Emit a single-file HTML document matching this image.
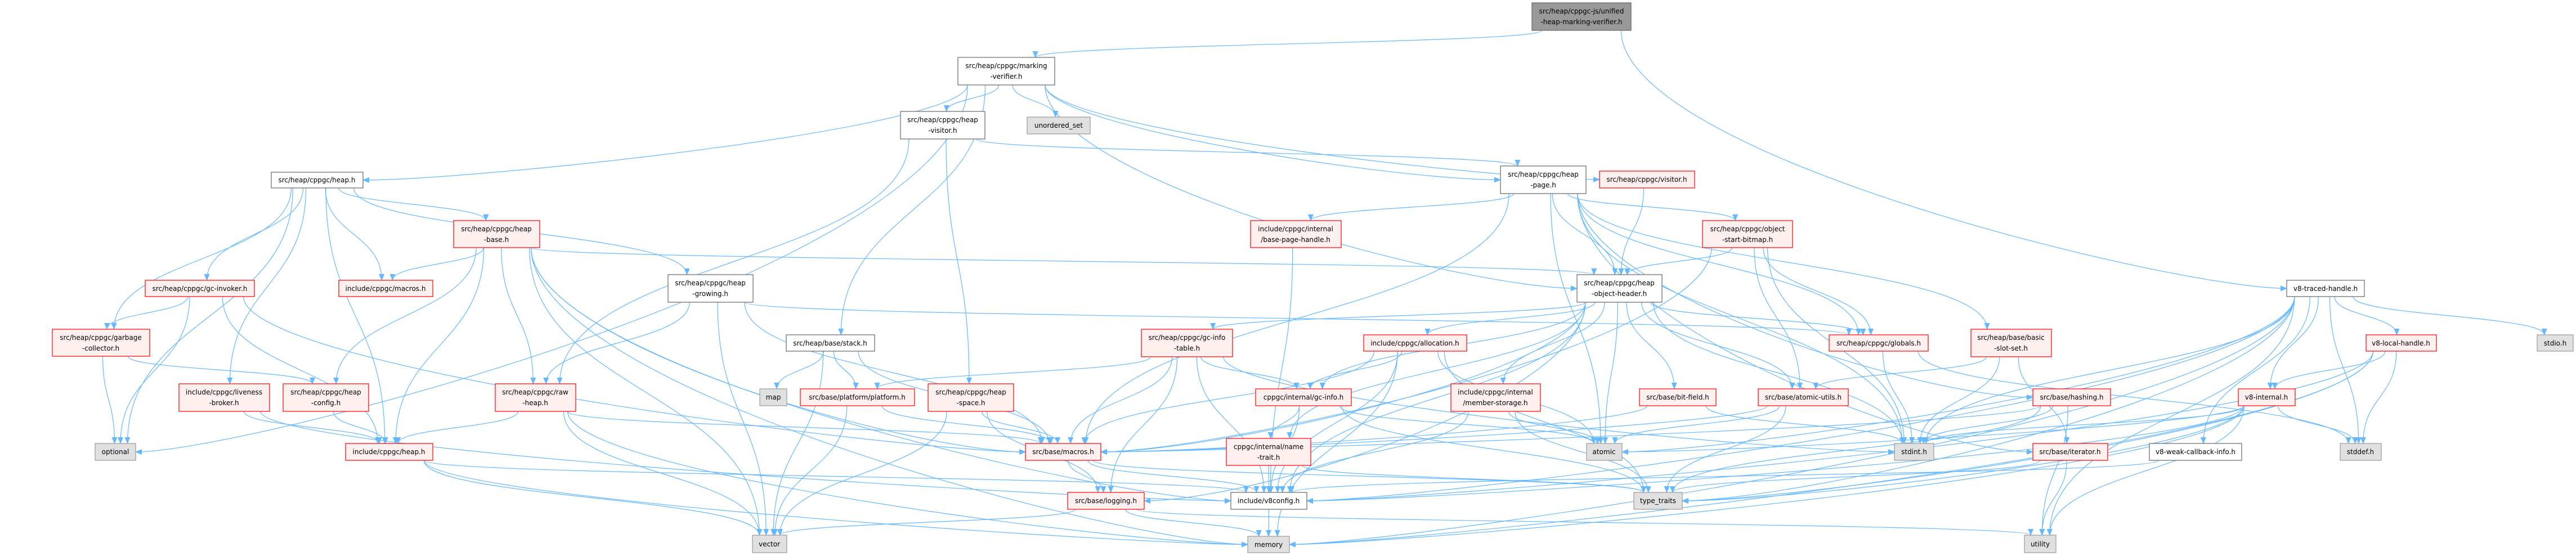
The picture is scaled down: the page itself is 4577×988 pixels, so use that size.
<!DOCTYPE html>
<html><head><meta charset="utf-8"><style>
html,body{margin:0;padding:0;background:#fff;}
svg{display:block;}
text{font-family:"DejaVu Sans","Liberation Sans",sans-serif;font-size:12px;fill:#000;}
.r rect{fill:#fff0f0;stroke:#ff0000;stroke-width:1.2}
.w rect{fill:#fff;stroke:#666;stroke-width:1.2}
.g rect{fill:#e0e0e0;stroke:#999;stroke-width:1.2}
.t rect{fill:#999;stroke:#666;stroke-width:1.2}
</style></head><body>
<svg id="s" width="4577" height="988" viewBox="0 0 4577 988" xmlns="http://www.w3.org/2000/svg">
<defs><marker id="a" markerWidth="12" markerHeight="10" refX="11" refY="5" orient="auto" markerUnits="userSpaceOnUse"><path d="M0,0 L12,5 L0,10 z" fill="#63b8ff"/></marker></defs>
<g id="edges" fill="none" stroke="#63b8ff" stroke-width="1.2"></g>
<g text-anchor="middle">
<g class="t"><rect x="2722" y="5" width="176" height="49"/><text x="2810" y="24">src/heap/cppgc-js/unified</text><text x="2810" y="43">-heap-marking-verifier.h</text></g>
<g class="w"><rect x="1702" y="102" width="172" height="49"/><text x="1788" y="121">src/heap/cppgc/marking</text><text x="1788" y="140">-verifier.h</text></g>
<g class="w"><rect x="1600" y="198" width="150" height="49"/><text x="1675" y="217">src/heap/cppgc/heap</text><text x="1675" y="236">-visitor.h</text></g>
<g class="g"><rect x="1825" y="208" width="112" height="30"/><text x="1881" y="227">unordered_set</text></g>
<g class="w"><rect x="482" y="306" width="163" height="28"/><text x="563" y="324">src/heap/cppgc/heap.h</text></g>
<g class="w"><rect x="2666" y="295" width="152" height="49"/><text x="2742" y="314">src/heap/cppgc/heap</text><text x="2742" y="333">-page.h</text></g>
<g class="r"><rect x="2842" y="304" width="169" height="30"/><text x="2926" y="323">src/heap/cppgc/visitor.h</text></g>
<g class="w"><rect x="4063" y="498" width="138" height="29"/><text x="4132" y="517">v8-traced-handle.h</text></g>
<g class="r"><rect x="806" y="392" width="153" height="48"/><text x="882" y="411">src/heap/cppgc/heap</text><text x="882" y="430">-base.h</text></g>
<g class="r"><rect x="2222" y="392" width="161" height="48"/><text x="2302" y="411">include/cppgc/internal</text><text x="2302" y="430">/base-page-handle.h</text></g>
<g class="r"><rect x="3025" y="392" width="160" height="48"/><text x="3105" y="411">src/heap/cppgc/object</text><text x="3105" y="430">-start-bitmap.h</text></g>
<g class="r"><rect x="258" y="498" width="194" height="29"/><text x="355" y="517">src/heap/cppgc/gc-invoker.h</text></g>
<g class="r"><rect x="602" y="498" width="167" height="29"/><text x="685" y="517">include/cppgc/macros.h</text></g>
<g class="w"><rect x="1187" y="488" width="151" height="49"/><text x="1262" y="507">src/heap/cppgc/heap</text><text x="1262" y="526">-growing.h</text></g>
<g class="w"><rect x="2802" y="488" width="151" height="49"/><text x="2877" y="507">src/heap/cppgc/heap</text><text x="2877" y="526">-object-header.h</text></g>
<g class="r"><rect x="93" y="585" width="173" height="48"/><text x="179" y="604">src/heap/cppgc/garbage</text><text x="179" y="623">-collector.h</text></g>
<g class="w"><rect x="1397" y="595" width="157" height="29"/><text x="1475" y="614">src/heap/base/stack.h</text></g>
<g class="r"><rect x="2028" y="585" width="162" height="49"/><text x="2109" y="604">src/heap/cppgc/gc-info</text><text x="2109" y="623">-table.h</text></g>
<g class="r"><rect x="2423" y="595" width="183" height="29"/><text x="2514" y="614">include/cppgc/allocation.h</text></g>
<g class="r"><rect x="3250" y="595" width="176" height="29"/><text x="3338" y="614">src/heap/cppgc/globals.h</text></g>
<g class="r"><rect x="3502" y="585" width="143" height="49"/><text x="3573" y="604">src/heap/base/basic</text><text x="3573" y="623">-slot-set.h</text></g>
<g class="r"><rect x="4204" y="595" width="125" height="29"/><text x="4266" y="614">v8-local-handle.h</text></g>
<g class="g"><rect x="4508" y="595" width="64" height="29"/><text x="4540" y="614">stdio.h</text></g>
<g class="r"><rect x="318" y="682" width="161" height="49"/><text x="398" y="701">include/cppgc/liveness</text><text x="398" y="720">-broker.h</text></g>
<g class="r"><rect x="503" y="682" width="152" height="49"/><text x="579" y="701">src/heap/cppgc/heap</text><text x="579" y="720">-config.h</text></g>
<g class="r"><rect x="880" y="682" width="143" height="49"/><text x="951" y="701">src/heap/cppgc/raw</text><text x="951" y="720">-heap.h</text></g>
<g class="g"><rect x="1350" y="691" width="48" height="30"/><text x="1374" y="710">map</text></g>
<g class="r"><rect x="1422" y="691" width="203" height="30"/><text x="1523" y="710">src/base/platform/platform.h</text></g>
<g class="r"><rect x="1649" y="682" width="152" height="49"/><text x="1725" y="701">src/heap/cppgc/heap</text><text x="1725" y="720">-space.h</text></g>
<g class="r"><rect x="2231" y="691" width="170" height="30"/><text x="2316" y="710">cppgc/internal/gc-info.h</text></g>
<g class="r"><rect x="2578" y="682" width="159" height="49"/><text x="2657" y="701">include/cppgc/internal</text><text x="2657" y="720">/member-storage.h</text></g>
<g class="r"><rect x="2913" y="691" width="136" height="30"/><text x="2981" y="710">src/base/bit-field.h</text></g>
<g class="r"><rect x="3124" y="691" width="160" height="30"/><text x="3204" y="710">src/base/atomic-utils.h</text></g>
<g class="r"><rect x="3612" y="691" width="138" height="30"/><text x="3681" y="710">src/base/hashing.h</text></g>
<g class="r"><rect x="3977" y="691" width="101" height="30"/><text x="4027" y="710">v8-internal.h</text></g>
<g class="g"><rect x="169" y="788" width="72" height="30"/><text x="205" y="807">optional</text></g>
<g class="r"><rect x="614" y="788" width="155" height="30"/><text x="691" y="807">include/cppgc/heap.h</text></g>
<g class="r"><rect x="1822" y="788" width="134" height="30"/><text x="1889" y="807">src/base/macros.h</text></g>
<g class="r"><rect x="2179" y="779" width="150" height="48"/><text x="2254" y="798">cppgc/internal/name</text><text x="2254" y="817">-trait.h</text></g>
<g class="g"><rect x="2819" y="788" width="63" height="30"/><text x="2850" y="807">atomic</text></g>
<g class="g"><rect x="3366" y="788" width="70" height="30"/><text x="3401" y="807">stdint.h</text></g>
<g class="r"><rect x="3612" y="788" width="133" height="30"/><text x="3678" y="807">src/base/iterator.h</text></g>
<g class="w"><rect x="3819" y="788" width="164" height="30"/><text x="3901" y="807">v8-weak-callback-info.h</text></g>
<g class="g"><rect x="4158" y="788" width="73" height="30"/><text x="4194" y="807">stddef.h</text></g>
<g class="r"><rect x="1897" y="875" width="136" height="30"/><text x="1965" y="894">src/base/logging.h</text></g>
<g class="w"><rect x="2187" y="875" width="135" height="30"/><text x="2254" y="894">include/v8config.h</text></g>
<g class="g"><rect x="2903" y="875" width="86" height="30"/><text x="2946" y="894">type_traits</text></g>
<g class="g"><rect x="1337" y="951" width="61" height="31"/><text x="1367" y="971">vector</text></g>
<g class="g"><rect x="2217" y="953" width="74" height="29"/><text x="2254" y="972">memory</text></g>
<g class="g"><rect x="3597" y="951" width="56" height="31"/><text x="3625" y="971">utility</text></g>
</g>
</svg>
<script>
var N={top:[2722,5,176,49],mv:[1702,102,172,49],hv:[1600,198,150,49],us:[1825,208,112,30],heap:[482,306,163,28],hp:[2666,295,152,49],vis:[2842,304,169,30],th:[4063,498,138,29],hb:[806,392,153,48],bph:[2222,392,161,48],osb:[3025,392,160,48],gci:[258,498,194,29],cm:[602,498,167,29],hg:[1187,488,151,49],hoh:[2802,488,151,49],gc:[93,585,173,48],st:[1397,595,157,29],gcit:[2028,585,162,49],alloc:[2423,595,183,29],glob:[3250,595,176,29],bss:[3502,585,143,49],lh:[4204,595,125,29],stdio:[4508,595,64,29],lb:[318,682,161,49],hc:[503,682,152,49],rh:[880,682,143,49],map:[1350,691,48,30],plat:[1422,691,203,30],hs:[1649,682,152,49],gcinfo:[2231,691,170,30],ms:[2578,682,159,49],bf:[2913,691,136,30],au:[3124,691,160,30],hash:[3612,691,138,30],v8i:[3977,691,101,30],opt:[169,788,72,30],ich:[614,788,155,30],bm:[1822,788,134,30],nt:[2179,779,150,48],atomic:[2819,788,63,30],stdint:[3366,788,70,30],iter:[3612,788,133,30],wci:[3819,788,164,30],stddef:[4158,788,73,30],log:[1897,875,136,30],v8c:[2187,875,135,30],tt:[2903,875,86,30],vector:[1337,951,61,31],memory:[2217,953,74,29],utility:[3597,951,56,31]};
var E="top mv,top th,mv heap,mv hv,mv us,mv hp,mv vis,mv hoh,mv st,mv opt,hv hp,hv rh,hv hs,heap gci,heap cm,heap gc,heap lb,heap hb,heap hg,heap ich,heap opt,hb cm,hb rh,hb ich,hb memory,hb vector,hb bm,hb hoh,hb v8c,hb hc,gci gc,gci ich,gci opt,gci bm,gc hc,gc opt,lb ich,lb v8c,hc ich,hg rh,hg bm,hg glob,hg vector,st map,st plat,st vector,st bm,rh ich,rh vector,rh bm,rh memory,plat vector,plat bm,hs bm,hs log,hs vector,hp hoh,hp bph,hp osb,hp glob,hp atomic,hp bm,hp bss,hp hash,hp iter,hp stdint,vis hoh,osb hoh,osb glob,osb au,osb stdint,osb bm,hoh alloc,hoh ms,hoh bf,hoh au,hoh atomic,hoh glob,hoh gcit,hoh gcinfo,hoh nt,hoh bm,hoh stdint,hoh v8c,hoh log,bph v8c,gcit gcinfo,gcit bm,gcit log,gcit v8c,gcit plat,gcit stdint,alloc gcinfo,alloc atomic,alloc tt,alloc v8c,alloc memory,alloc bm,gcinfo nt,gcinfo v8c,gcinfo tt,gcinfo atomic,ms atomic,ms tt,ms v8c,bf stdint,bf bm,au atomic,au tt,au bm,bm log,bm v8c,bm tt,nt v8c,nt tt,log vector,log memory,log utility,v8c memory,glob stdint,glob stddef,bss au,bss stdint,bss iter,hash stdint,hash utility,hash tt,hash bm,iter utility,iter tt,th lh,th v8i,th stddef,th stdio,th wci,th atomic,th memory,th tt,th utility,th v8c,th stdint,lh v8i,lh stddef,lh memory,lh tt,lh v8c,v8i stddef,v8i stdint,v8i atomic,v8i memory,v8i tt,v8i utility,v8i v8c,wci v8c,ich memory,ich vector,ich v8c";
var g=document.getElementById("edges"),out="";
function cl(v,a){return Math.max(-a,Math.min(a,v));}
E.split(",").forEach(function(p){var q=p.split(" "),s=N[q[0]],t=N[q[1]];
var scx=s[0]+s[2]/2,tcx=t[0]+t[2]/2,sy=s[1]+s[3],ty=t[1];
var sx=scx+cl((tcx-scx)*0.12,s[2]*0.4),tx=tcx+cl((scx-tcx)*0.06,t[2]*0.3);
var dy=ty-sy,path;
if(Math.abs(tcx-scx)>900 && dy>60){var side=tcx<scx?t[0]+t[2]:t[0];var yy=t[1]+t[3]/2;
path="M"+sx+","+sy+" C"+sx+","+(sy+dy*0.5)+" "+(side+(tcx<scx?200:-200))+","+yy+" "+side+","+yy;}
else path="M"+sx+","+sy+" C"+sx+","+(sy+dy*0.5)+" "+tx+","+(ty-dy*0.5)+" "+tx+","+ty;
out+='<path d="'+path+'" marker-end="url(#a)"/>';});
g.innerHTML=out;
</script>
</body></html>
